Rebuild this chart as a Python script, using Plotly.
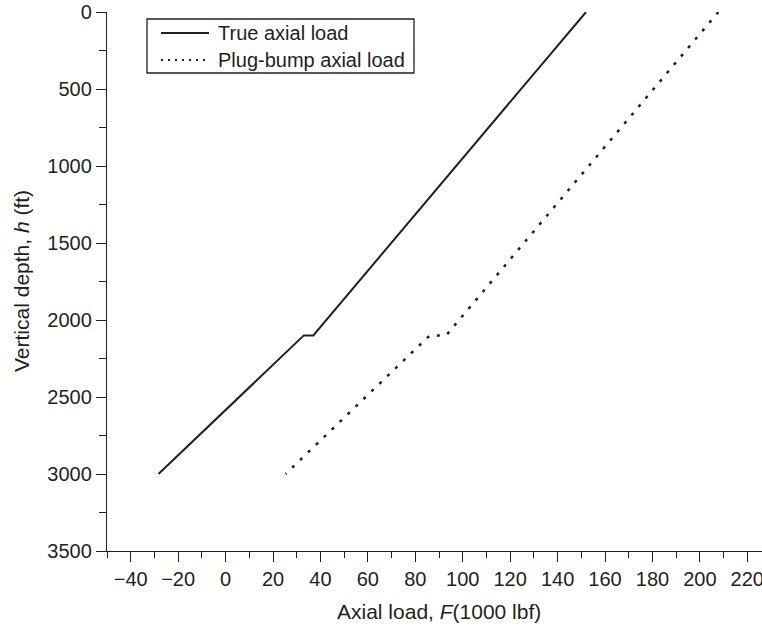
import plotly.graph_objects as go

# Axial load profiles along the casing string (depth in ft, load in 1000 lbf)
depth_true = [0, 2100, 2100, 3000]
load_true = [152.0, 37.0, 33.0, -28.3]

depth_plug = [0, 2100, 2100, 3000]
load_plug = [207.8, 93.0, 86.1, 25.3]

series_names = ["True axial load", "Plug-bump axial load"]

INK = "#231f20"
FONT = "Liberation Sans, Arial, sans-serif"

W, H = 762, 626
ML, MR, MT, MB = 107, 0, 12, 75
PW, PH = W - ML - MR, H - MT - MB


def px(x):
    return (x - ML) / PW


def py(y):
    return 1 - (y - MT) / PH


fig = go.Figure()
fig.add_trace(go.Scatter(
    x=load_true, y=depth_true, mode="lines", name=series_names[0],
    line=dict(color=INK, width=2), showlegend=False,
))
fig.add_trace(go.Scatter(
    x=load_plug, y=depth_plug, mode="lines", name=series_names[1],
    line=dict(color=INK, width=2.5, dash="3px,8px"), showlegend=False,
))

axis_common = dict(
    showline=True, linecolor=INK, linewidth=1.3,
    ticks="outside", ticklen=10, tickwidth=1.3, tickcolor=INK,
    showgrid=False, zeroline=False,
    tickfont=dict(family=FONT, size=20, color=INK),
    ticklabeloverflow="allow",
)

fig.update_xaxes(
    range=[-50, 226.2], tick0=0, dtick=20,
    minor=dict(tick0=0, dtick=10, ticks="outside", ticklen=6,
               tickwidth=1.3, tickcolor=INK, showgrid=False),
    **axis_common,
)
fig.update_yaxes(
    range=[3500, 0], tick0=0, dtick=500,
    minor=dict(tick0=0, dtick=250, ticks="outside", ticklen=7,
               tickwidth=1.3, tickcolor=INK, showgrid=False),
    **axis_common,
)

# Legend box drawn by hand so the line samples can be long
shapes = [
    dict(type="rect", xref="paper", yref="paper",
         x0=px(147), x1=px(414), y0=py(73), y1=py(19),
         line=dict(color=INK, width=1.3), fillcolor="white"),
    dict(type="line", xref="paper", yref="paper",
         x0=px(161), x1=px(209), y0=py(33), y1=py(33),
         line=dict(color=INK, width=2)),
    dict(type="line", xref="paper", yref="paper",
         x0=px(161), x1=px(209), y0=py(60), y1=py(60),
         line=dict(color=INK, width=2, dash="2px,5px")),
]

annotations = [
    dict(text=series_names[0], xref="paper", yref="paper",
         x=px(216), y=py(33), xanchor="left", yanchor="middle",
         showarrow=False, font=dict(family=FONT, size=20, color=INK)),
    dict(text=series_names[1], xref="paper", yref="paper",
         x=px(216), y=py(60), xanchor="left", yanchor="middle",
         showarrow=False, font=dict(family=FONT, size=20, color=INK)),
    dict(text="Axial load, <i>F</i>(1000 lbf)", xref="paper", yref="paper",
         x=px(439), y=py(611), xanchor="center", yanchor="middle",
         showarrow=False, font=dict(family=FONT, size=21, color=INK)),
    dict(text="Vertical depth, <i>h</i> (ft)", xref="paper", yref="paper",
         x=px(22), y=py(281), xanchor="center", yanchor="middle",
         textangle=-90, showarrow=False,
         font=dict(family=FONT, size=21, color=INK)),
]

fig.update_layout(
    width=W, height=H,
    margin=dict(l=ML, r=MR, t=MT, b=MB, autoexpand=False),
    paper_bgcolor="white", plot_bgcolor="white",
    showlegend=False,
    shapes=shapes, annotations=annotations,
)

fig.write_html("out.html")
